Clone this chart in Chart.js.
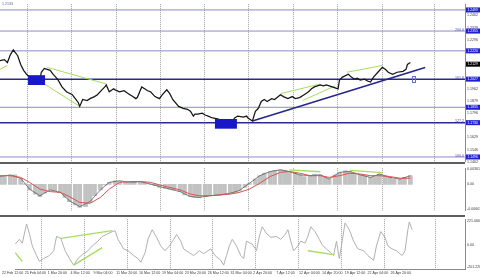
<!DOCTYPE html>
<html><head><meta charset="utf-8">
<script src="https://cdn.jsdelivr.net/npm/chart.js@4.4.1/dist/chart.umd.min.js"></script>
<style>
html,body{margin:0;padding:0;background:#fff;}
#wrap{position:relative;width:480px;height:277px;overflow:hidden;background:#fff;}
canvas{position:absolute;left:0;}
.sep{position:absolute;left:0;width:465px;height:2px;background:#5f5f5f;z-index:5;}
</style></head><body>
<div id="wrap">
<canvas id="cMain" width="480" height="166" style="top:0;width:480px;height:166px"></canvas>
<canvas id="cMacd" width="480" height="51" style="top:164px;width:480px;height:51px"></canvas>
<canvas id="cCci" width="480" height="62" style="top:215px;width:480px;height:62px"></canvas>
<div class="sep" style="top:162px"></div>
<div class="sep" style="top:215px"></div>
</div>
<script>
// ---------------- DATA ----------------
const xLabels = ['22 Feb 12:00','25 Feb 04:00','1 Mar 20:00','4 Mar 12:00','9 Mar 04:00','11 Mar 20:00','16 Mar 12:00','19 Mar 04:00','23 Mar 20:00','26 Mar 12:00','31 Mar 04:00','2 Apr 20:00','7 Apr 12:00','12 Apr 04:00','14 Apr 20:00','19 Apr 12:00','22 Apr 04:00','26 Apr 20:00'];
const firstLabelBar = -9.2;
const barsPerLabel = 16;
const gridBars = [18.3, 48.1, 78.5, 108.3, 138.1, 167.9, 198.4, 228.2, 258.6, 293.8];

const priceBar = [0,3,5,7,9,12,14,16,18,20,
 22,25,27,28,30,32,34,36,39,42,
 45,49,51,53,54,56,59,61,64,66,
 69,71,72,74,77,78,81,84,86,88,
 90,92,93,96,98,100,102,105,108,110,
 113,115,117,121,124,127,129,131,132,134,
 137,139,141,144,148,150,152,155,157,159,
 161,165,167,168,171,173,175,177,179,181,
 184,186,190,192,195,198,200,203,206,209,
 211,213,217,219,221,223,225,229,230,232,
 236,238,240,242,244,247,249,251,253,256,
 259,261,263,266,269,273,275,276,278];
const priceClose = [1.2153,1.2160,1.2140,1.2193,1.2226,1.2187,1.2127,1.2087,1.2060,1.2041,
 1.2027,1.2014,1.2021,1.2074,1.2100,1.2094,1.2087,1.2060,1.2027,1.1974,
 1.1941,1.1921,1.1894,1.1868,1.1841,1.1888,1.1881,1.1894,1.1908,1.1921,
 1.1954,1.1974,1.1987,1.1941,1.1961,1.1954,1.1941,1.1948,1.1934,1.1921,
 1.1908,1.1894,1.1901,1.1974,1.1961,1.1948,1.1941,1.1908,1.1894,1.1921,
 1.1954,1.1928,1.1888,1.1841,1.1828,1.1821,1.1808,1.1775,1.1788,1.1788,
 1.1795,1.1782,1.1775,1.1762,1.1755,1.1735,1.1748,1.1722,1.1735,1.1762,
 1.1775,1.1768,1.1775,1.1762,1.1742,1.1808,1.1828,1.1875,1.1888,1.1875,
 1.1894,1.1888,1.1921,1.1908,1.1894,1.1908,1.1894,1.1901,1.1921,1.1941,
 1.1961,1.1974,1.1987,1.1981,1.1987,1.1981,1.1974,1.1961,1.2021,1.2041,
 1.2060,1.2041,1.2027,1.2034,1.2021,1.2027,1.2014,1.2007,1.2041,1.2074,
 1.2107,1.2094,1.2074,1.2060,1.2074,1.2080,1.2094,1.2127,1.2140];

const priceTicks = [1.1462,1.1546,1.1629,1.1796,1.1879,1.1962,1.2296,1.2379,1.2462];
const levelPrices = [1.2499,1.2355,1.2220,1.2027,1.1835,1.1730,1.1496];
const levelFib    = ['','200.0','','161.8','','127.2','100.0'];
const levelStrong = [false,false,false,true,false,true,false];
const currentPrice = 1.2129;
const headerText = '1.2133';

const trendBars = [171, 288];
const trendPrices = [1.1742, 1.2107];
const mainDivBars = [[0,5],[32,72],[30,54],[190,217],[205,227],[235,259]];
const mainDivPrices = [[1.2094,1.2120],[1.2107,1.1994],[1.1994,1.1841],[1.1928,1.1994],[1.1881,1.1981],[1.2074,1.2120]];
const boxBars = [[19,30.5],[145.6,160.5]];
const boxPrices = [[1.2054,1.1987],[1.1755,1.1689]];
const markBars = [279,281];
const markPrices = [1.2047,1.2007];

const macdBar = [0,3,7,10,14,17,20,24,27,30,
 34,37,41,44,47,51,54,58,61,64,
 68,71,74,78,81,85,88,91,95,98,
 102,105,108,112,115,118,122,125,129,132,
 135,139,142,146,149,152,156,159,162,166,
 169,173,176,179,183,186,190,193,196,200,
 203,206,210,213,217,220,223,227,230,234,
 237,240,244,247,251,254,257,261,264,267,
 271,274,278];
const macdHist = [0.00168,0.00189,0.00209,0.00229,0.00148,0.0001,-0.00136,-0.00238,-0.00298,-0.00217,
 -0.00136,-0.00156,-0.00197,-0.00319,-0.0042,-0.00501,-0.00562,-0.00542,-0.0044,-0.00278,
 -0.00136,-0.00014,0.00047,0.00087,0.00067,0.00047,0.00026,0.00047,0.00067,0.00047,
 0.00006,-0.00035,-0.00075,-0.00095,-0.00116,-0.00136,-0.00177,-0.00258,-0.00298,-0.00319,
 -0.00319,-0.00298,-0.00278,-0.00258,-0.00258,-0.00238,-0.00217,-0.00197,-0.00156,-0.00075,
 0.00026,0.00128,0.00209,0.0027,0.00311,0.00331,0.00351,0.00331,0.00311,0.0027,
 0.00229,0.00189,0.00209,0.0025,0.00229,0.00168,0.00128,0.00229,0.0029,0.00331,
 0.00311,0.0027,0.00229,0.00209,0.00168,0.00189,0.0025,0.00209,0.00168,0.00128,
 0.00128,0.00168,0.00209];
const sigBar = [0,7,14,20,27,34,41,47,54,61,68,74,81,88,95,102,108,115,122,129,135,142,149,156,162,169,176,183,190,196,203,210,217,223,230,237,244,251,257,264,271,278];
const macdSignal = [0.00209,0.00209,0.00168,0.00047,-0.00116,-0.00177,-0.00197,-0.00298,-0.0044,-0.00461,
 -0.00319,-0.00116,0.00047,0.00067,0.00067,0.00047,-0.00014,-0.00075,-0.00136,-0.00238,
 -0.00278,-0.00278,-0.00258,-0.00238,-0.00197,-0.00116,0.00026,0.00189,0.0029,0.00311,
 0.0027,0.00209,0.00209,0.00168,0.00209,0.0027,0.0025,0.00209,0.00209,0.00189,
 0.00148,0.00148];
const macdMain = [0.00189,0.00229,0.00148,-0.00116,-0.00278,-0.00136,-0.00197,-0.004,-0.00542,-0.0042,
 -0.00136,0.00047,0.00087,0.00047,0.00067,0.00006,-0.00055,-0.00116,-0.00177,-0.00298,
 -0.00319,-0.00278,-0.00258,-0.00217,-0.00156,0.00026,0.00209,0.00311,0.00351,0.00311,
 0.00229,0.00209,0.00229,0.00128,0.0029,0.00311,0.00229,0.00168,0.0025,0.00168,
 0.00128,0.00209];
const macdTicks = [-0.00603, 0, 0.00361];
const macdDivBars = [[196,217],[237,259]];
const macdDivVals = [[0.00351,0.00305],[0.00337,0.00284]];

const cciBar = [0,3,5,8,10,12,15,17,20,24,
 27,29,32,35,38,41,44,47,51,54,
 58,61,64,68,70,72,76,79,83,86,
 88,91,93,96,99,102,105,108,111,113,
 116,118,122,125,129,132,135,137,140,144,
 146,148,150,152,155,158,160,162,166,169,
 171,173,176,179,183,186,189,191,193,195,
 198,200,203,205,207,210,213,215,218,221,
 223,225,227,229,231,234,237,240,244,247,
 251,253,256,259,261,264,267,271,273,275,
 276,278];
const cciVal = [5,49,14,190,102,-12,-100,-153,-127,-100,
 -56,76,58,-56,-127,-188,-127,-92,-56,-12,
 32,76,93,120,128,49,-39,-56,-100,-127,
 -162,-74,49,137,67,-12,-56,-12,49,93,
 32,-39,-74,-100,-56,-83,-56,-39,-100,-144,
 -188,-100,-12,49,-12,-100,-127,32,5,-56,
 76,164,102,67,76,49,93,137,32,-56,
 -12,32,14,76,164,120,49,-4,-39,-74,
 -100,32,-127,32,199,137,32,-39,-56,-100,
 -144,-12,120,67,-12,-39,-56,-100,-56,137,
 208,137];
const cciTicks = [-201.228, 0, 221.0663];
const cciTickText = ['-201.228','0.00','221.0663'];
const cciDivBars = [[0,5],[32,68],[41,61],[205,223]];
const cciDivVals = [[-74,-153],[58,128],[-188,-27],[-56,-92]];

// ---------------- RENDER ----------------
const FONT = "'Liberation Sans', Arial, sans-serif";
const X_MAX = 315;
const GREEN = '#a6dd5a';
Chart.defaults.font.family = FONT;

const pts = (xs, ys) => xs.map((b, i) => ({x: b, y: ys[i]}));
const segs = (bars, vals) => bars.map((b, i) => ({
  type: 'line', data: pts(b, vals[i]), borderColor: GREEN, borderWidth: 1, pointRadius: 0
}));

const vgrid = {
  id: 'vgrid',
  beforeDatasetsDraw(chart) {
    const {ctx, chartArea: a, scales: {x}} = chart;
    ctx.save();
    ctx.strokeStyle = '#a0a0a0'; ctx.lineWidth = 1; ctx.setLineDash([1, 1]);
    gridBars.forEach(b => {
      const px = Math.round(x.getPixelForValue(b)) + 0.5;
      ctx.beginPath(); ctx.moveTo(px, a.top); ctx.lineTo(px, a.bottom); ctx.stroke();
    });
    ctx.restore();
  }
};

function yAxis(min, max, ticks, fmt) {
  return {
    position: 'right', min, max,
    afterFit(s) { s.width = 15; },
    afterBuildTicks(s) { s.ticks = ticks.map(v => ({value: v})); },
    ticks: {callback: fmt, font: {family: FONT, size: 3.6}, color: '#3a3a3a', padding: 2, autoSkip: false},
    grid: {display: false, drawTicks: false},
    border: {display: true, color: '#8a8a8a', width: 1}
  };
}
const hiddenX = {type: 'linear', min: 0, max: X_MAX, display: false, offset: false};
const baseOpts = {
  responsive: false, animation: false, devicePixelRatio: 1, events: [],
  plugins: {legend: {display: false}, tooltip: {enabled: false}}
};

// ----- main price panel -----
const mainOverlay = {
  id: 'mainOverlay',
  afterDatasetsDraw(chart) {
    const {ctx, chartArea: a, scales: {x, y}} = chart;
    ctx.save();
    ctx.fillStyle = '#1818c8';
    boxBars.forEach((b, i) => {
      const x0 = x.getPixelForValue(b[0]), x1 = x.getPixelForValue(b[1]);
      const y0 = y.getPixelForValue(boxPrices[i][0]), y1 = y.getPixelForValue(boxPrices[i][1]);
      ctx.fillRect(x0, y0, x1 - x0, y1 - y0);
    });
    ctx.strokeStyle = '#6a6ad8'; ctx.lineWidth = 1;
    {
      const x0 = x.getPixelForValue(markBars[0]), x1 = x.getPixelForValue(markBars[1]);
      const y0 = y.getPixelForValue(markPrices[0]), y1 = y.getPixelForValue(markPrices[1]);
      ctx.strokeRect(Math.round(x0) + 0.5, Math.round(y0) + 0.5, Math.round(x1 - x0), Math.round(y1 - y0));
    }
    ctx.font = '3.6px ' + FONT; ctx.fillStyle = '#4646b4';
    ctx.textAlign = 'right'; ctx.textBaseline = 'bottom';
    levelPrices.forEach((p, i) => {
      if (levelFib[i]) ctx.fillText(levelFib[i], a.right - 1, y.getPixelForValue(p) + 0.5);
    });
    ctx.textAlign = 'left'; ctx.textBaseline = 'top'; ctx.fillStyle = '#5a5a9a';
    ctx.fillText(headerText, 2, 2);
    ctx.restore();
  },
  afterDraw(chart) {
    const {ctx, chartArea: a, scales: {y}} = chart;
    ctx.save();
    ctx.font = '3.4px ' + FONT; ctx.textAlign = 'left'; ctx.textBaseline = 'middle';
    const tag = (p, bg) => {
      const py = y.getPixelForValue(p);
      ctx.fillStyle = bg; ctx.fillRect(a.right + 1, py - 2.5, 15, 5);
      ctx.fillStyle = '#ffffff'; ctx.fillText(p.toFixed(4), a.right + 2.5, py + 0.2);
    };
    levelPrices.forEach(p => tag(p, '#2020d0'));
    tag(currentPrice, '#000000');
    ctx.restore();
  }
};

const mainDatasets = [
  {type: 'line', data: pts(priceBar, priceClose), borderColor: '#161616', borderWidth: 1.25, pointRadius: 0},
  {type: 'line', data: pts(trendBars, trendPrices), borderColor: '#26268c', borderWidth: 1.6, pointRadius: 0},
  ...segs(mainDivBars, mainDivPrices),
  ...levelPrices.map((p, i) => ({
    type: 'line', data: [{x: 0, y: p}, {x: X_MAX, y: p}],
    borderColor: levelStrong[i] ? '#2a2a8e' : '#8c8cc8', borderWidth: levelStrong[i] ? 1.5 : 1, pointRadius: 0
  }))
];

new Chart(document.getElementById('cMain'), {
  type: 'line',
  data: {datasets: mainDatasets},
  options: Object.assign({}, baseOpts, {
    layout: {padding: {left: 0, right: 0, top: 0, bottom: 4}, autoPadding: false},
    scales: {x: hiddenX, y: yAxis(1.14628, 1.25385, priceTicks, v => v.toFixed(4))}
  }),
  plugins: [vgrid, mainOverlay]
});

// ----- MACD panel -----
new Chart(document.getElementById('cMacd'), {
  type: 'line',
  data: {datasets: [
    ...segs(macdDivBars, macdDivVals).map(d => Object.assign(d, {borderWidth: 1.3})),
    {type: 'line', data: pts(sigBar, macdSignal), borderColor: '#d9534f', borderWidth: 1, pointRadius: 0},
    {type: 'line', data: pts(sigBar, macdMain), borderColor: '#4a4a4a', borderWidth: 0.7, pointRadius: 0},
    {type: 'bar', data: pts(macdBar, macdHist), backgroundColor: '#c2c2c2', borderWidth: 0, barThickness: 4, grouped: false}
  ]},
  options: Object.assign({}, baseOpts, {
    layout: {padding: 0, autoPadding: false},
    scales: {x: hiddenX, y: yAxis(-0.00644, 0.00392, macdTicks, v => v === 0 ? '0.00' : v.toFixed(5))}
  }),
  plugins: [vgrid]
});

// ----- CCI panel -----
new Chart(document.getElementById('cCci'), {
  type: 'line',
  data: {datasets: [
    ...segs(cciDivBars, cciDivVals).map(d => Object.assign(d, {borderWidth: 1.3})),
    {type: 'line', data: pts(cciBar, cciVal), borderColor: '#b0b0b0', borderWidth: 1, pointRadius: 0}
  ]},
  options: Object.assign({}, baseOpts, {
    layout: {padding: {left: 0, right: 0, top: 2, bottom: 0}, autoPadding: false},
    scales: {
      x: {
        type: 'linear', min: 0, max: X_MAX, position: 'bottom', offset: false,
        afterFit(s) { s.height = 8; },
        afterBuildTicks(s) { s.ticks = xLabels.map((_, i) => ({value: firstLabelBar + barsPerLabel * i})); },
        ticks: {autoSkip: false, maxRotation: 0, minRotation: 0, align: 'start', padding: 2,
                font: {family: FONT, size: 3.6}, color: '#3a3a3a', callback: (v, i) => xLabels[i]},
        grid: {display: false, drawTicks: false},
        border: {display: true, color: '#8a8a8a', width: 1}
      },
      y: yAxis(-223.4, 234.0, cciTicks, (v, i) => cciTickText[i])
    }
  }),
  plugins: [vgrid]
});
</script>
</body></html>
